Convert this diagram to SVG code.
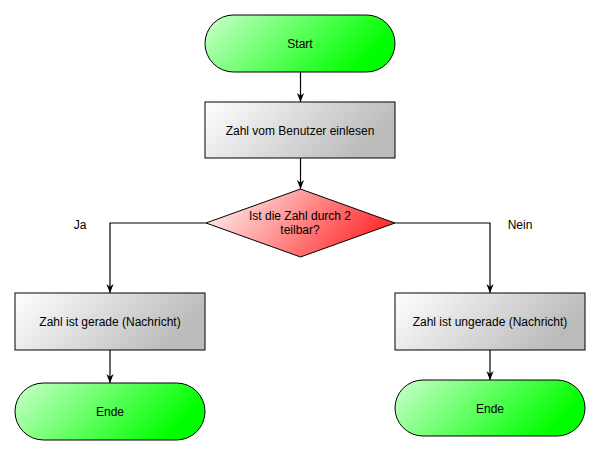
<svg xmlns="http://www.w3.org/2000/svg" width="601" height="456" viewBox="0 0 601 456">
<defs>
<linearGradient id="gGreen" x1="0" y1="0" x2="1" y2="0.3"><stop offset="0" stop-color="#ccffcc"/><stop offset="1" stop-color="#00ff00"/></linearGradient>
<linearGradient id="gGray" x1="0" y1="0" x2="1" y2="0.3"><stop offset="0" stop-color="#ffffff"/><stop offset="1" stop-color="#bbbbbb"/></linearGradient>
<linearGradient id="gRed" x1="0" y1="0" x2="1" y2="0.3"><stop offset="0" stop-color="#ffffff"/><stop offset="1" stop-color="#ff3333"/></linearGradient>
<marker id="arr" viewBox="0 0 10 8" refX="10" refY="4" markerWidth="9" markerHeight="8" markerUnits="userSpaceOnUse" orient="auto">
<path d="M0,0 L10,4 L0,8 L3,4 z" fill="#000"/>
</marker>
</defs>
<style>
.s{stroke:#000;stroke-width:1}
.t{font-family:"Liberation Sans",Arial,sans-serif;font-size:12px;fill:#000;text-anchor:middle}
.e{fill:none;stroke:#000;stroke-width:1.2;marker-end:url(#arr)}
</style>
<g id="connectors">
<path class="e" d="M300.5,72 L300.5,102"/>
<path class="e" d="M300.5,158 L300.5,189"/>
<path class="e" d="M206,223 L110,223 L110,293"/>
<path class="e" d="M395,223 L490,223 L490,293"/>
<path class="e" d="M110,350 L110,383"/>
<path class="e" d="M490,350 L490,380"/>
</g>
<g id="start"><rect class="s" x="205" y="15" width="190" height="57" rx="28.5" fill="url(#gGreen)"/><text class="t" x="300" y="48">Start</text></g>
<g id="input"><rect class="s" x="205" y="102" width="190" height="56" fill="url(#gGray)"/><text class="t" x="300" y="135">Zahl vom Benutzer einlesen</text></g>
<g id="decision"><polygon class="s" points="300.5,189 395,223 300.5,257 206,223" fill="url(#gRed)"/><text class="t" x="300" y="220">Ist die Zahl durch 2</text><text class="t" x="300" y="234">teilbar?</text></g>
<g id="even"><rect class="s" x="15" y="293" width="190" height="57" fill="url(#gGray)"/><text class="t" x="110" y="326">Zahl ist gerade (Nachricht)</text></g>
<g id="odd"><rect class="s" x="395" y="293" width="190" height="57" fill="url(#gGray)"/><text class="t" x="490" y="326">Zahl ist ungerade (Nachricht)</text></g>
<g id="end1"><rect class="s" x="15" y="383" width="190" height="57" rx="28.5" fill="url(#gGreen)"/><text class="t" x="110" y="416">Ende</text></g>
<g id="end2"><rect class="s" x="395" y="380" width="190" height="56" rx="28" fill="url(#gGreen)"/><text class="t" x="490" y="413">Ende</text></g>
<g id="labels"><text class="t" x="80" y="229">Ja</text><text class="t" x="520" y="229">Nein</text></g>
</svg>
